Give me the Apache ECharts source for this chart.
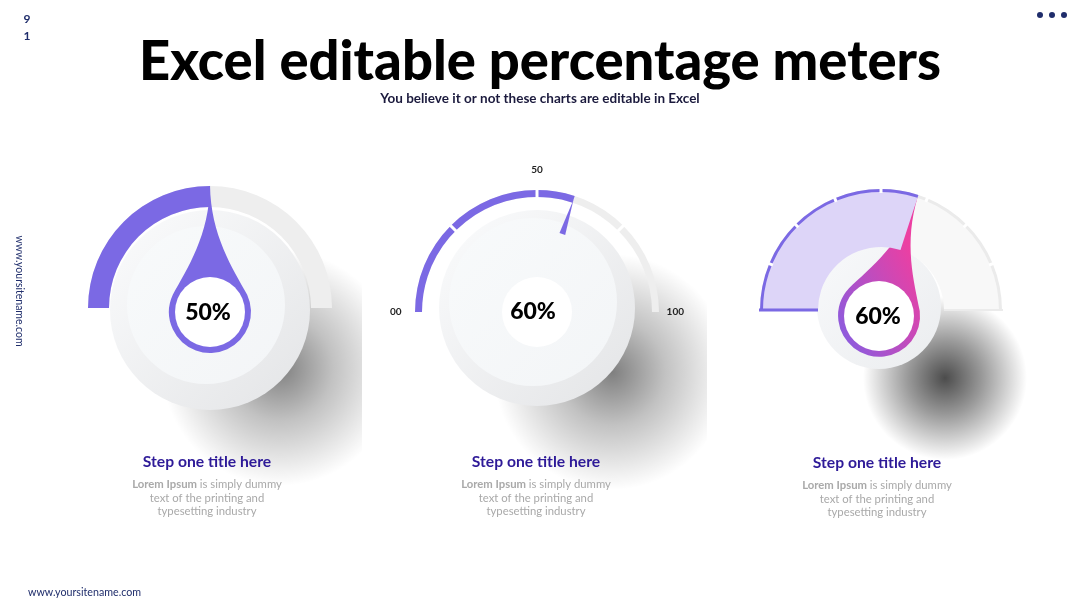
<!DOCTYPE html>
<html><head><meta charset="utf-8">
<script src="https://cdn.jsdelivr.net/npm/echarts@6/dist/echarts.min.js"></script>
<style>html,body{margin:0;padding:0;background:#fff}#c{width:1080px;height:608px}</style>
</head><body><div id="c"></div><script>
// ---- data ----
const meterValues = [50, 60, 60];
const meterTitles = ['Step one title here', 'Step one title here', 'Step one title here'];
const bodyBold = ['Lorem Ipsum', 'Lorem Ipsum', 'Lorem Ipsum'];
const bodyLines = ['is simply dummy', 'text of the printing and', 'typesetting industry'];
const axisRange = [0, 100];
const gauge2TickValues = [0, 50, 100];
const gauge2TickLabels = ['00', '50', '100'];
const headerTitle = 'Excel editable percentage meters';
const headerSub = 'You believe it or not these charts are editable in Excel';
const pageNumber = ['9', '1'];
const siteName = 'www.yoursitename.com';

// ---- styles / layout ----
const PURPLE = '#7b69e4';
const GRAY = '#eeeeee';
const NAVY = '#1f2d6b';
const FONT = 'Lato, "Open Sans", sans-serif';
const C1 = [210, 308], C2 = [537, 312], C3 = [881, 310];
const textX = [207, 536, 877];
const textY = [462, 462, 463];
const dropPath = 'path://M41 0 C41.5 50 64 84 78.2 109.7 A41 41 0 1 1 3.8 109.7 C18 84 40.5 50 41 0 Z';

const hidden = {
  splitLine: {show: false}, axisTick: {show: false}, axisLabel: {show: false},
  title: {show: false}
};
const detailStyle = {fontSize: 23, fontWeight: 900, fontFamily: FONT, color: '#000', formatter: '{value}%'};

function gapSeries(center, radius, start, end, n, len) {
  return Object.assign({}, hidden, {
    type: 'gauge', center, radius, startAngle: start, endAngle: end, min: 0, max: 100,
    splitNumber: n, z: 3,
    axisLine: {show: false, lineStyle: {width: 0}},
    progress: {show: false}, pointer: {show: false}, anchor: {show: false},
    detail: {show: false},
    splitLine: {show: true, length: len, distance: 0, lineStyle: {color: '#fff', width: 3}},
    data: []
  });
}
function labelSeries(center, value, offset) {
  return Object.assign({}, hidden, {
    type: 'gauge', center, radius: 50, startAngle: 180, endAngle: 0,
    min: axisRange[0], max: axisRange[1], z: 6,
    axisLine: {show: false, lineStyle: {width: 0}},
    progress: {show: false}, pointer: {show: false}, anchor: {show: false},
    detail: Object.assign({show: true, offsetCenter: offset}, detailStyle),
    data: [{value}]
  });
}

const series = [
  // gauge 1
  Object.assign({}, hidden, {
    type: 'gauge', center: C1, radius: 122, startAngle: 180, endAngle: 0,
    min: axisRange[0], max: axisRange[1], splitNumber: 2,
    axisLine: {lineStyle: {width: 21, color: [[1, GRAY]]}},
    progress: {show: true, width: 21, itemStyle: {color: PURPLE}},
    pointer: {icon: dropPath, length: 168, width: 82, offsetCenter: [0, 45], itemStyle: {color: PURPLE}},
    anchor: {show: true, showAbove: true, size: 70, offsetCenter: [0, 4], itemStyle: {color: '#fff'}},
    detail: {show: false},
    data: [{value: meterValues[0]}]
  }),
  labelSeries(C1, meterValues[0], [-2, 5]),
  // gauge 2
  Object.assign({}, hidden, {
    type: 'gauge', center: C2, radius: 122, startAngle: 180, endAngle: 0,
    min: axisRange[0], max: axisRange[1], splitNumber: 2,
    axisLine: {lineStyle: {width: 7, color: [[1, GRAY]]}},
    progress: {show: true, width: 7, itemStyle: {color: PURPLE}},
    axisLabel: {show: true, distance: -45, fontSize: 10, fontWeight: 'bold', fontFamily: FONT, color: '#222',
      formatter: v => { const i = gauge2TickValues.indexOf(v); return i >= 0 ? gauge2TickLabels[i] : ''; }},
    pointer: {icon: 'path://M3 0 L6 36 L0 36 Z', length: 36, width: 6, offsetCenter: [0, -82], itemStyle: {color: PURPLE}},
    anchor: {show: true, showAbove: true, size: 70, itemStyle: {color: '#fff'}},
    detail: {show: false},
    data: [{value: meterValues[1]}]
  }),
  labelSeries(C2, meterValues[1], [-4, 0]),
  gapSeries(C2, 125, 135, 45, 2, 14),
  // gauge 3 fill
  Object.assign({}, hidden, {
    type: 'gauge', center: C3, radius: 119, startAngle: 180, endAngle: 0,
    min: axisRange[0], max: axisRange[1],
    axisLine: {lineStyle: {width: 56, color: [[1, '#f8f8f8']]}},
    progress: {show: true, width: 56, itemStyle: {color: '#ddd5f8'}},
    pointer: {show: false}, anchor: {show: false}, detail: {show: false},
    data: [{value: meterValues[2]}]
  }),
  // gauge 3 outline + drop
  Object.assign({}, hidden, {
    type: 'gauge', center: C3, radius: 121, startAngle: 180, endAngle: 0,
    min: axisRange[0], max: axisRange[1],
    axisLine: {lineStyle: {width: 3, color: [[1, '#ebebeb']]}},
    progress: {show: true, width: 3, itemStyle: {color: PURPLE}},
    pointer: {icon: dropPath, length: 167, width: 82, offsetCenter: [0, 47],
      itemStyle: {color: {type: 'linear', x: 0, y: 1, x2: 1, y2: 0.5,
        colorStops: [{offset: 0, color: '#7f5fe6'}, {offset: 1, color: '#ec3fa2'}]}}},
    anchor: {show: true, showAbove: true, size: 70, offsetCenter: [-2, 6], itemStyle: {color: '#fff'}},
    detail: {show: false},
    data: [{value: meterValues[2]}]
  }),
  labelSeries(C3, meterValues[2], [-3, 7]),
  gapSeries(C3, 124, 157.5, 22.5, 6, 7)
];

function radial(x, y, r, a0, a1) {
  return {type: 'radial', x, y, r, global: true, colorStops: [
    {offset: 0, color: 'rgba(0,0,0,' + a0 + ')'},
    {offset: 0.45, color: 'rgba(0,0,0,' + a1 + ')'},
    {offset: 1, color: 'rgba(0,0,0,0)'}]};
}
function lin(c0, c1) {
  return {type: 'linear', x: 0, y: 0, x2: 1, y2: 1, colorStops: [{offset: 0, color: c0}, {offset: 1, color: c1}]};
}
function txt(x, y, text, size, weight, color, extra) {
  return Object.assign({type: 'text', x, y, z: 20, style: {
    text, fontSize: size, fontWeight: weight, fontFamily: FONT, fill: color,
    align: 'center', verticalAlign: 'middle', textAlign: 'center', textVerticalAlign: 'middle'}}, extra || {});
}

const graphic = [
  // shadows
  {type: 'rect', z: 0, shape: {x: 140, y: 220, width: 222, height: 270}, style: {fill: radial(280, 368, 118, 0.5, 0.24)}},
  {type: 'rect', z: 0, shape: {x: 470, y: 220, width: 237, height: 270}, style: {fill: radial(612, 372, 118, 0.5, 0.24)}},
  {type: 'circle', z: 0, shape: {cx: 945, cy: 378, r: 82}, style: {fill: radial(945, 378, 82, 0.7, 0.4)}},
  // disks
  {type: 'circle', z: 1, shape: {cx: 210, cy: 310, r: 100}, style: {fill: lin('#fbfcfd', '#e3e4e6')}},
  {type: 'circle', z: 1, shape: {cx: 206, cy: 305, r: 79}, style: {fill: lin('#f8fafb', '#f3f5f7')}},
  {type: 'circle', z: 1, shape: {cx: 537, cy: 308, r: 98}, style: {fill: lin('#fbfcfd', '#e3e4e6')}},
  {type: 'circle', z: 1, shape: {cx: 533, cy: 302, r: 84}, style: {fill: lin('#f8fafb', '#f3f5f7')}},
  {type: 'circle', z: 1, shape: {cx: 879, cy: 307, r: 62}, style: {fill: lin('#f8f9fb', '#ebedef')}},
  // gauge 3 base edges
  {type: 'line', z: 5, shape: {x1: C3[0] - 122, y1: C3[1], x2: C3[0] - 63, y2: C3[1]}, style: {stroke: PURPLE, lineWidth: 3}},
  {type: 'line', z: 5, shape: {x1: C3[0] + 63, y1: C3[1], x2: C3[0] + 122, y2: C3[1]}, style: {stroke: '#ebebeb', lineWidth: 2}},
  // header
  txt(540, 62, headerTitle, 54.3, 900, '#000'),
  txt(540, 99, headerSub, 13.5, 'bold', '#1b1a3d'),
  txt(27, 19, pageNumber[0], 12, 'bold', NAVY),
  txt(27, 36, pageNumber[1], 12, 'bold', NAVY),
  {type: 'circle', z: 20, shape: {cx: 1040, cy: 15, r: 3}, style: {fill: NAVY}},
  {type: 'circle', z: 20, shape: {cx: 1052, cy: 15, r: 3}, style: {fill: NAVY}},
  {type: 'circle', z: 20, shape: {cx: 1064, cy: 15, r: 3}, style: {fill: NAVY}},
  txt(19, 291, siteName, 10.5, 'normal', NAVY, {rotation: -Math.PI / 2}),
  txt(28, 593, siteName, 10.7, 'normal', NAVY)
];
graphic[graphic.length - 1].style.align = 'left';
graphic[graphic.length - 1].style.textAlign = 'left';

for (let i = 0; i < 3; i++) {
  graphic.push(txt(textX[i], textY[i], meterTitles[i], 15.7, 'bold', '#2e1a98'));
  graphic.push({type: 'text', x: textX[i], y: textY[i] + 16, z: 20, style: {
    text: '{b|' + bodyBold[i] + '} ' + bodyLines[0] + '\n' + bodyLines[1] + '\n' + bodyLines[2],
    fontSize: 11.3, fontFamily: FONT, fill: '#a9a9a9', lineHeight: 13.5,
    align: 'center', verticalAlign: 'top', textAlign: 'center', textVerticalAlign: 'top',
    rich: {b: {fontWeight: 'bold', fontSize: 11.3, fontFamily: FONT, fill: '#a9a9a9', lineHeight: 13.5}}
  }});
}

const chart = echarts.init(document.getElementById('c'), null, {renderer: 'canvas'});
chart.setOption({animation: false, backgroundColor: '#fff', series, graphic});
</script></body></html>
